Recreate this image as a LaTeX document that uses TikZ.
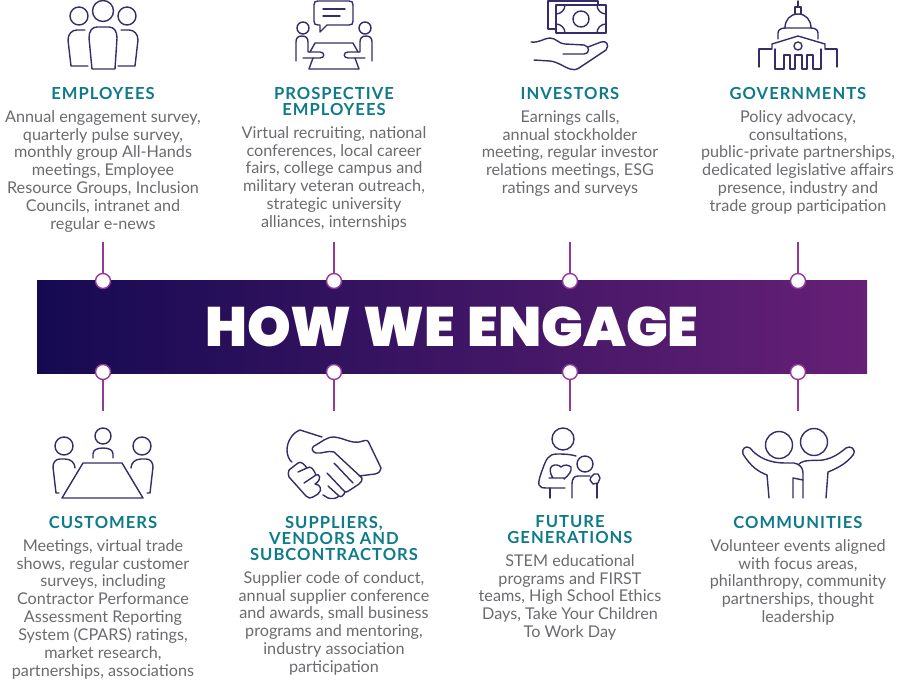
\documentclass[tikz,border=0pt]{standalone}
\usepackage{fontspec}
\setmainfont{Lato}
\newfontfamily\headfont[LetterSpace=6]{Lato Bold}
\newfontfamily\bannerfont[WordSpace=1.25]{Poppins Black}
\usetikzlibrary{positioning}
\definecolor{inkblue}{HTML}{352C69}
\definecolor{tealhead}{HTML}{0E7B8B}
\definecolor{greytext}{HTML}{6A6B6E}
\definecolor{stemviolet}{HTML}{93399A}
\definecolor{bandleft}{HTML}{150A52}
\definecolor{bandright}{HTML}{662076}
\tikzset{
    icon/.style={draw=inkblue, line width=1.4pt, line cap=round, line join=round},
    headtxt/.style={font=\headfont\fontsize{16.6}{16}\selectfont, text=tealhead, align=center, inner sep=0pt},
    bodytxt/.style={font=\fontsize{16.2}{17.9}\selectfont, text=greytext, align=center, inner sep=0pt},
    band/.style={left color=bandleft, right color=bandright, minimum width=830pt, minimum height=93pt, inner sep=0pt,
        text=white, font=\bannerfont\fontsize{55.5}{60}\selectfont},
    dotmark/.style={circle, draw=stemviolet, fill=white, line width=1.4pt, minimum size=15pt, inner sep=0pt},
    stem/.style={draw=stemviolet, line width=1.4pt},
}
\begin{document}
\begin{tikzpicture}[x=1pt, y=-1pt]
    \useasboundingbox (0,0) rectangle (900,686);

    % banner
    \node[band] (banner) at (452,326.5) {HOW WE ENGAGE};
    \foreach \name/\xpos in {a/103, b/334, c/570, d/798} {
        \coordinate (top\name) at (\xpos,242);
        \coordinate (bot\name) at (\xpos,411);
        \node[dotmark] (dot\name) at (\xpos,281) {};
        \node[dotmark] (low\name) at (\xpos,372) {};
        \draw[stem] (dot\name) -- (top\name);
        \draw[stem] (low\name) -- (bot\name);
    }

    % upper row
    \node[headtxt] (employees) at (103,93) {EMPLOYEES};
    \node[bodytxt, below=17pt of employees.center, anchor=north] (employeesbody) {Annual engagement survey,\\quarterly pulse survey,\\monthly group All-Hands\\meetings, Employee\\Resource Groups, Inclusion\\Councils, intranet and\\regular e-news};
    \node[headtxt] (prospective) at (334,101) {PROSPECTIVE\\EMPLOYEES};
    \node[bodytxt, below=25pt of prospective.center, anchor=north] (prospectivebody) {Virtual recruiting, national\\conferences, local career\\fairs, college campus and\\military veteran outreach,\\strategic university\\alliances, internships};
    \node[headtxt] (investors) at (570,93) {INVESTORS};
    \node[bodytxt, below=17pt of investors.center, anchor=north] (investorsbody) {Earnings calls,\\annual stockholder\\meeting, regular investor\\relations meetings, ESG\\ratings and surveys};
    \node[headtxt] (governments) at (798,93) {GOVERNMENTS};
    \node[bodytxt, below=17pt of governments.center, anchor=north] (governmentsbody) {Policy advocacy,\\consultations,\\public-private partnerships,\\dedicated legislative affairs\\presence, industry and\\trade group participation};

    % lower row
    \node[headtxt] (customers) at (103,522) {CUSTOMERS};
    \node[bodytxt, below=17pt of customers.center, anchor=north] (customersbody) {Meetings, virtual trade\\shows, regular customer\\surveys, including\\Contractor Performance\\Assessment Reporting\\System (CPARS) ratings,\\market research,\\partnerships, associations};
    \node[headtxt] (suppliers) at (334,538) {SUPPLIERS,\\VENDORS AND\\SUBCONTRACTORS};
    \node[bodytxt, below=33pt of suppliers.center, anchor=north] (suppliersbody) {Supplier code of conduct,\\annual supplier conference\\and awards, small business\\programs and mentoring,\\industry association\\participation};
    \node[headtxt] (future) at (570,530) {FUTURE\\GENERATIONS};
    \node[bodytxt, below=24pt of future.center, anchor=north] (futurebody) {STEM educational\\programs and FIRST\\teams, High School Ethics\\Days, Take Your Children\\To Work Day};
    \node[headtxt] (communities) at (798,522) {COMMUNITIES};
    \node[bodytxt, below=17pt of communities.center, anchor=north] (communitiesbody) {Volunteer events aligned\\with focus areas,\\philanthropy, community\\partnerships, thought\\leadership};

    % employees icon
    \draw[icon] (103,11) circle (10.5) (79,16) circle (9) (127,16) circle (9);
    \draw[icon] (92,69) -- (89,38) .. controls (89,31) and (92,27) .. (97,27) -- (109,27) .. controls (114,27) and (117,31) .. (117,38) -- (115,69) -- cycle;
    \draw[icon] (88,66) -- (71,66) -- (68,40) .. controls (68,34) and (72,30) .. (77,30) -- (85,30);
    \draw[icon] (118,66) -- (135,66) -- (138,40) .. controls (138,34) and (134,30) .. (129,30) -- (121,30);

    % prospective employees icon
    \draw[icon] (320,25) -- (320,32) -- (327,25) -- (349,25) .. controls (352,25) and (353,24) .. (353,21) -- (353,5) .. controls (353,2) and (352,1) .. (349,1) -- (318,1) .. controls (315,1) and (314,2) .. (314,5) -- (314,21) .. controls (314,24) and (315,25) .. (318,25) -- cycle;
    \draw[icon] (323,9) -- (345,9) (323,16) -- (340,16);
    \draw[icon] (303,28) circle (6) (365,28) circle (6);
    \draw[icon] (296,61) -- (296,42) .. controls (296,38) and (298,36) .. (302,36) .. controls (306,36) and (308,38) .. (308,42) -- (308,52) -- (320,52) .. controls (325,52) and (325,58) .. (320,58) -- (303,58);
    \draw[icon] (372,61) -- (372,42) .. controls (372,38) and (370,36) .. (366,36) .. controls (362,36) and (360,38) .. (360,42) -- (360,52) -- (348,52) .. controls (343,52) and (343,58) .. (348,58) -- (365,58);
    \draw[icon] (310,52) -- (315,43) -- (353,43) -- (358,52) (313,58) -- (309,69) -- (359,69) -- (355,58);

    % investors icon
    \draw[icon] (556,29) -- (548,29) -- (548,1) -- (598,1) -- (598,5);
    \draw[icon] (556,5) rectangle (606,33);
    \draw[icon] (581,19) circle (8);
    \draw[icon] (556,14) .. controls (561,14) and (565,10) .. (565,5) (597,5) .. controls (597,10) and (601,14) .. (606,14) (556,24) .. controls (561,24) and (565,28) .. (565,33) (597,33) .. controls (597,28) and (601,24) .. (606,24);
    \draw[icon] (531,42) .. controls (540,43) and (544,38) .. (550,38) .. controls (556,38) and (559,44) .. (565,44) -- (584,45) .. controls (590,46) and (590,54) .. (584,54) -- (563,54);
    \draw[icon] (588,47) -- (601,42) .. controls (606,40) and (610,45) .. (606,50) -- (579,68) .. controls (576,70) and (573,70) .. (570,69) .. controls (562,66) and (558,62) .. (550,61) -- (534,60);

    % governments icon
    \draw[icon] (798,1) -- (798,7) (795,14) -- (795,7) -- (801,7) -- (801,14);
    \draw[icon] (785,28) .. controls (785,20) and (790,14) .. (798,14) .. controls (806,14) and (811,20) .. (811,28) -- cycle;
    \draw[icon] (778,39) -- (778,33) .. controls (778,30) and (781,28) .. (785,28) (818,39) -- (818,33) .. controls (818,30) and (815,28) .. (811,28);
    \draw[icon] (772,48) -- (772,44) -- (798,36) -- (825,44) -- (825,48);
    \draw[icon] (798,46) circle (4);
    \draw[icon] (759,67) -- (759,49) -- (772,49) (837,67) -- (837,49) -- (825,49);
    \draw[icon] (775,49) -- (775,69) -- (784,69) -- (784,55) -- (790,55) -- (790,69) -- (795,69) -- (795,55) -- (802,55) -- (802,69) -- (807,69) -- (807,55) -- (813,55) -- (813,69) -- (821,69) -- (821,49);

    % customers icon
    \draw[icon] (64,446) circle (9) (103,436) circle (8) (142,446) circle (9);
    \draw[icon] (62,498) -- (83,463) -- (122,463) -- (143,498) -- cycle;
    \draw[icon] (93,458) -- (93,454) .. controls (93,450) and (97,448) .. (103,448) .. controls (109,448) and (113,450) .. (113,454) -- (113,458);
    \draw[icon] (59,493) -- (56,493) -- (53,467) .. controls (53,462) and (56,459) .. (60,459) -- (65,459) .. controls (71,459) and (75,463) .. (75,468);
    \draw[icon] (147,493) -- (150,493) -- (153,467) .. controls (153,462) and (150,459) .. (146,459) -- (141,459) .. controls (135,459) and (131,463) .. (131,468);

    % suppliers icon
    \draw[icon] (322,437) -- (300,430) .. controls (292,433) and (287,442) .. (287,450) .. controls (287,455) and (289,460) .. (292,462);
    \draw[icon] (289,470) -- (298,463) .. controls (301,461) and (304,464) .. (307,468) .. controls (311,465) and (314,470) .. (316,475) .. controls (319,473) and (323,479) .. (315,484) .. controls (320,484) and (323,490) .. (318,494) -- (313,497) .. controls (311,499) and (308,498) .. (306,496) -- (289,477) .. controls (288,475) and (288,472) .. (289,470) (298,472) -- (307,468) (304,483) -- (316,475);
    \draw[icon] (359,476) -- (375,474) .. controls (379,473) and (381,471) .. (381,468) -- (369,443) .. controls (368,440) and (366,440) .. (363,441) .. controls (352,445) and (345,438) .. (334,437) .. controls (326,437) and (322,442) .. (314,446) .. controls (311,448) and (312,452) .. (316,453) .. controls (322,454) and (328,450) .. (334,452) -- (362,478) .. controls (363,480) and (361,482) .. (359,484) -- (350,490) .. controls (348,492) and (346,492) .. (345,492) -- (327,473);
    \draw[icon] (334,463) -- (353,483) (328,486) -- (339,496) .. controls (341,498) and (344,495) .. (345,492) (323,495) -- (328,498) .. controls (332,499) and (336,499) .. (339,496);

    % future generations icon
    \draw[icon] (563,439) circle (11) (585,464) circle (8);
    \draw[icon] (576,456) .. controls (570,454) and (562,454) .. (557,454) .. controls (548,454) and (546,460) .. (543,468) .. controls (540,476) and (538,482) .. (539,485) .. controls (540,488) and (543,488) .. (546,488) -- (565,488);
    \draw[icon] (550,488) -- (550,498);
    \draw[icon] (549,478) -- (565,478) (553,478) .. controls (550,474) and (549,468) .. (552,466) .. controls (555,464) and (559,465) .. (561,467) .. controls (564,464) and (569,465) .. (571,467) .. controls (572,471) and (569,475) .. (564,479);
    \draw[icon] (572,498) -- (572,484) .. controls (572,479) and (574,476) .. (578,476) -- (590,476);
    \draw[icon] (591,477) -- (594,474) -- (598,474) -- (600,478) -- (598,483) -- (593,484) -- (590,480) -- cycle;
    \draw[icon] (597,484) -- (597,498);

    % communities icon
    \draw[icon] (779,445) circle (13.5) (814,442) circle (13.5);
    \draw[icon] (769,498) -- (767,475) .. controls (759,472) and (751,467) .. (743,454) .. controls (741,449) and (746,445) .. (750,448) .. controls (758,458) and (770,463) .. (785,463) -- (794,463) .. controls (800,464) and (803,468) .. (803,473) -- (803,498);
    \draw[icon] (793,498) -- (793,478) -- (803,480);
    \draw[icon] (799,464) .. controls (804,459) and (815,461) .. (823,460) .. controls (834,458) and (841,452) .. (846,448) .. controls (850,445) and (857,449) .. (853,455) .. controls (847,463) and (838,468) .. (828,472) -- (826,498);
\end{tikzpicture}
\end{document}
